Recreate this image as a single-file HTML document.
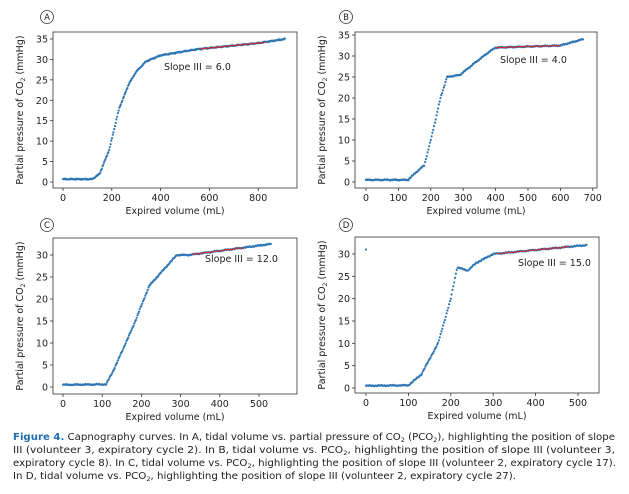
<!DOCTYPE html>
<html><head><meta charset="utf-8"><style>
body{margin:0;background:#fff;}
svg{display:block;font-family:"DejaVu Sans","Liberation Sans",sans-serif;}
.t{font-size:9.5px;fill:#222;}
.c{font-size:9.4px;fill:#222;}
</style></head><body>
<svg id="s" width="629" height="494" viewBox="0 0 629 494" xmlns="http://www.w3.org/2000/svg">
<rect width="629" height="494" fill="#fff"/>
<g id="g"></g>
<text class="c" x="13" y="440" textLength="602" lengthAdjust="spacingAndGlyphs"><tspan fill="#1f6fb0" font-weight="bold">Figure 4.</tspan> Capnography curves. In A, tidal volume vs. partial pressure of CO<tspan font-size="6" dy="2">2</tspan><tspan dy="-2"> (PCO</tspan><tspan font-size="6" dy="2">2</tspan><tspan dy="-2">), highlighting the position of slope</tspan></text>
<text class="c" x="13" y="453" textLength="602" lengthAdjust="spacingAndGlyphs">III (volunteer 3, expiratory cycle 2). In B, tidal volume vs. PCO<tspan font-size="6" dy="2">2</tspan><tspan dy="-2">, highlighting the position of slope III (volunteer 3,</tspan></text>
<text class="c" x="13" y="466" textLength="603" lengthAdjust="spacingAndGlyphs">expiratory cycle 8). In C, tidal volume vs. PCO<tspan font-size="6" dy="2">2</tspan><tspan dy="-2">, highlighting the position of slope III (volunteer 2, expiratory cycle 17).</tspan></text>
<text class="c" x="13" y="479" textLength="503" lengthAdjust="spacingAndGlyphs">In D, tidal volume vs. PCO<tspan font-size="6" dy="2">2</tspan><tspan dy="-2">, highlighting the position of slope III (volunteer 2, expiratory cycle 27).</tspan></text>
</svg>
<script>
var g=document.getElementById('g'),h='';
function P(o){
 var bx=o.box,xs=function(v){return o.x0+v*o.xp},ys=function(p){return o.y0-p*o.yp};
 h+='<rect x="'+bx[0]+'" y="'+bx[1]+'" width="'+(bx[2]-bx[0])+'" height="'+(bx[3]-bx[1])+'" fill="none" stroke="#333" stroke-width="0.8"/>';
 o.xt.forEach(function(v){var x=xs(v);h+='<line x1="'+x+'" x2="'+x+'" y1="'+bx[3]+'" y2="'+(bx[3]+3)+'" stroke="#333" stroke-width="0.8"/><text class="t" x="'+x+'" y="'+(bx[3]+13)+'" text-anchor="middle">'+v+'</text>';});
 o.yt.forEach(function(v){var y=ys(v);h+='<line x1="'+bx[0]+'" x2="'+(bx[0]-3)+'" y1="'+y+'" y2="'+y+'" stroke="#333" stroke-width="0.8"/><text class="t" x="'+(bx[0]-5)+'" y="'+(y+3.5)+'" text-anchor="end">'+v+'</text>';});
 var cx=(bx[0]+bx[2])/2;
 h+='<text class="t" x="'+cx+'" y="'+(bx[3]+26)+'" text-anchor="middle">Expired volume (mL)</text>';
 var lx=bx[0]-30,ly=(bx[1]+bx[3])/2;
 h+='<text class="t" transform="translate('+lx+','+ly+') rotate(-90)" text-anchor="middle">Partial pressure of CO<tspan font-size="6" dy="2">2</tspan><tspan dy="-2"> (mmHg)</tspan></text>';
 h+='<circle cx="'+o.L[0]+'" cy="'+o.L[1]+'" r="6.5" fill="#fff" stroke="#333" stroke-width="0.8"/><text x="'+o.L[0]+'" y="'+(o.L[1]+3.2)+'" font-size="8.5" text-anchor="middle" fill="#222">'+o.L[2]+'</text>';
 var k=o.k,pts=[];
 for(var v=0;v<=o.vmax;v+=o.st){
  var i=0;while(i<k.length-2&&k[i+1][0]<v)i++;
  var a=k[i],b=k[i+1],p=a[1]+(b[1]-a[1])*(v-a[0])/(b[0]-a[0]);
  p+=0.08*Math.sin(v*0.9)+0.06*Math.sin(v*0.23);
  pts.push([xs(v),ys(p),v]);
 }
 pts.forEach(function(q){h+='<circle cx="'+q[0].toFixed(1)+'" cy="'+q[1].toFixed(1)+'" r="1.1" fill="#2f77b4"/>';});
 if(o.extra)h+='<circle cx="'+xs(o.extra[0])+'" cy="'+ys(o.extra[1])+'" r="1.1" fill="#2f77b4"/>';
 var r=pts.filter(function(q){return q[2]>=o.red[0]&&q[2]<=o.red[1]});
 h+='<polyline points="'+r.map(function(q){return q[0].toFixed(1)+','+(q[1]).toFixed(1)}).join(' ')+'" fill="none" stroke="#d62728" stroke-width="1"/>';
 h+='<text class="t" x="'+o.S[0]+'" y="'+o.S[1]+'">'+o.S[2]+'</text>';
}
P({box:[53,32,297,188],x0:63,xp:0.244,y0:182,yp:143/35,xt:[0,200,400,600,800],yt:[0,5,10,15,20,25,30,35],L:[47,17,'A'],S:[164,70,'Slope III = 6.0'],
 k:[[0,0.7],[120,0.7],[150,2],[190,8],[230,18],[270,24],[300,27],[340,29.5],[400,31],[550,32.5],[800,34],[910,35]],vmax:910,st:3,red:[560,830]});
P({box:[355,32,597,188],x0:366,xp:0.324,y0:182,yp:147/35,xt:[0,100,200,300,400,500,600,700],yt:[0,5,10,15,20,25,30,35],L:[346,17,'B'],S:[500,63,'Slope III = 4.0'],
 k:[[0,0.5],[130,0.5],[150,2],[180,4],[200,10],[230,20],[250,25],[290,25.5],[330,28],[380,31],[400,32],[600,32.5],[670,34]],vmax:670,st:2.5,red:[400,600]});
P({box:[53,238,297,394],x0:63,xp:0.392,y0:387,yp:132/30,xt:[0,100,200,300,400,500],yt:[0,5,10,15,20,25,30],L:[47,225,'C'],S:[205,262,'Slope III = 12.0'],
 k:[[0,0.5],[110,0.6],[130,4],[180,14],[220,23],[260,27],[290,30],[320,30],[530,32.5]],vmax:530,st:2,red:[330,460]});
P({box:[355,237,599,393],x0:366,xp:0.424,y0:388,yp:134/30,xt:[0,100,200,300,400,500],yt:[0,5,10,15,20,25,30],L:[346,225,'D'],S:[518,266,'Slope III = 15.0'],
 k:[[0,0.5],[100,0.6],[130,3],[170,10],[200,20],[215,27],[240,26.3],[260,28],[300,30],[520,32]],vmax:520,st:2,red:[310,480],extra:[0,31]});
g.innerHTML=h;
</script>
</body></html>
